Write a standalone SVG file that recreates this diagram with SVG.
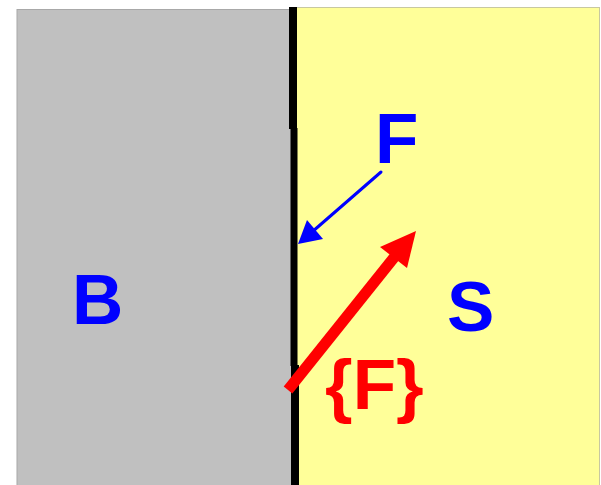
<svg xmlns="http://www.w3.org/2000/svg" width="601" height="485" viewBox="0 0 601 485">
<style>
.lbl{font-family:"Liberation Sans",Arial,sans-serif;font-weight:bold;font-size:71px}
.blue{fill:#0000FF}
.red{fill:#FF0000}
</style>
<rect width="601" height="485" fill="#FFFFFF"/>
<g id="body-B">
<rect x="17" y="9.5" width="276" height="480" fill="#C0C0C0" stroke="#A8A8A8" stroke-width="1"/>
<text class="lbl blue" x="72" y="324">B</text>
</g>
<g id="surroundings-S">
<rect x="295" y="7.5" width="304.5" height="480" fill="#FFFF99" stroke="#C8C8A0" stroke-width="1"/>
<text class="lbl blue" x="447" y="331">S</text>
</g>
<g id="boundary">
<rect x="289" y="7" width="8" height="122" fill="#000"/>
<rect x="290.5" y="128" width="7" height="238" fill="#000"/>
<rect x="291" y="365" width="8" height="120" fill="#000"/>
</g>
<g id="connectors">
<line x1="381" y1="172" x2="312" y2="232" stroke="#0000FF" stroke-width="3" stroke-linecap="round"/>
<polygon points="298,244 307,220 323,239" fill="#0000FF"/>
<line x1="288" y1="390" x2="396" y2="255" stroke="#FF0000" stroke-width="11"/>
<polygon points="416,231 380,247 407,268" fill="#FF0000"/>
</g>
<g id="label-F">
<text class="lbl blue" x="375" y="163">F</text>
</g>
<g id="label-setF">
<text class="lbl red" x="325" y="409">{F}</text>
</g>
</svg>
